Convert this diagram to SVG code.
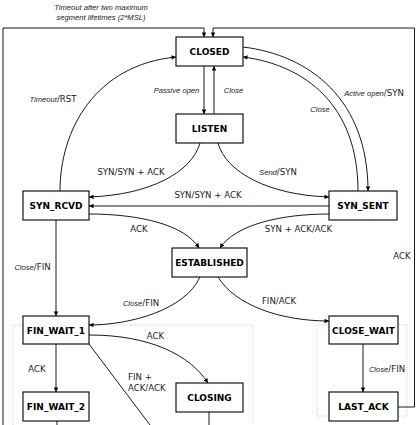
<svg xmlns="http://www.w3.org/2000/svg" width="417" height="425" viewBox="0 0 417 425">
<defs>
<marker id="ah" viewBox="0 0 10 10" refX="10" refY="5" markerWidth="5" markerHeight="4.5" markerUnits="userSpaceOnUse" orient="auto">
<path d="M0,0 L10,5 L0,10 z" fill="#000"/>
</marker>
</defs>
<style>
.box{fill:#fff;stroke:#000;stroke-width:1.1}
.nt{font-family:"DejaVu Sans",sans-serif;font-weight:bold;font-size:9px;text-anchor:middle;fill:#000}
.c{fill:none;stroke:#000;stroke-width:0.9}
.a{marker-end:url(#ah)}
.lb{font-family:"DejaVu Sans",sans-serif;font-size:8.6px;fill:#222;text-anchor:middle}
.it{font-family:"Liberation Sans",sans-serif;font-style:italic;font-size:7.6px}
.dot{fill:none;stroke:#c8c8c8;stroke-width:0.8;stroke-dasharray:1,1}
</style>
<rect width="417" height="425" fill="#fff"/>
<g id="regions">
<rect class="dot" x="13" y="325" width="240" height="105"/>
<rect class="dot" x="317" y="325" width="90" height="91"/>
</g>
<g id="connectors">
<path class="c a" d="M3,425 L3,28 L204,28 L204,37"/>
<path class="c a" d="M398,407 L414.5,407 L414.5,28 L213,28 L213,37"/>
<path class="c a" d="M204,66 L204,114"/>
<path class="c a" d="M214,114 L214,66"/>
<path class="c a" d="M60,191 C60,130 95,65 176,57"/>
<path class="c a" d="M243,47 C310,55 368,100 368,191"/>
<path class="c a" d="M358,191 C358,105 305,65 243,57"/>
<path class="c a" d="M200,143 C192,172 150,195 89,197"/>
<path class="c a" d="M218,143 C226,172 268,195 329,197"/>
<path class="c a" d="M329,206 L89,206"/>
<path class="c a" d="M89,214 C140,214 185,225 199,248"/>
<path class="c a" d="M329,214 C280,214 235,225 220,248"/>
<path class="c a" d="M56,220 L56,316"/>
<path class="c a" d="M56,344 L56,392"/>
<path class="c a" d="M200,277 C185,310 130,325 89,325"/>
<path class="c a" d="M218,277 C235,305 280,321 329,321"/>
<path class="c a" d="M363,344 L363,392"/>
<path class="c a" d="M89,335 C150,335 190,355 208,383"/>
<path class="c" d="M89,344 L150,425"/>
<path class="c" d="M209,412 L209,425"/>
<path class="c" d="M57,421 L57,425"/>
</g>
<g id="labels">
<text class="lb it" x="101" y="10">Timeout after two maximum</text>
<text class="lb it" x="101" y="20">segment lifetimes (2*MSL)</text>
<text class="lb it" x="176.5" y="93">Passive open</text>
<text class="lb it" x="233.5" y="93">Close</text>
<text class="lb" x="53" y="102"><tspan class="it">Timeout</tspan>/RST</text>
<text class="lb" x="374" y="96"><tspan class="it">Active open</tspan>/SYN</text>
<text class="lb it" x="320" y="112">Close</text>
<text class="lb" x="131" y="175">SYN/SYN + ACK</text>
<text class="lb" x="278" y="175"><tspan class="it">Send</tspan>/SYN</text>
<text class="lb" x="208" y="198">SYN/SYN + ACK</text>
<text class="lb" x="139" y="232">ACK</text>
<text class="lb" x="298.5" y="232">SYN + ACK/ACK</text>
<text class="lb" x="402" y="259">ACK</text>
<text class="lb" x="32.5" y="270"><tspan class="it">Close</tspan>/FIN</text>
<text class="lb" x="141" y="306"><tspan class="it">Close</tspan>/FIN</text>
<text class="lb" x="279" y="304">FIN/ACK</text>
<text class="lb" x="155.5" y="339">ACK</text>
<text class="lb" x="37" y="372">ACK</text>
<text class="lb" x="128" y="380" style="text-anchor:start">FIN +</text>
<text class="lb" x="128" y="391" style="text-anchor:start">ACK/ACK</text>
<text class="lb" x="387" y="372"><tspan class="it">Close</tspan>/FIN</text>
</g>
<g id="closed"><rect class="box" x="176" y="37" width="67" height="29"/><text class="nt" x="209.5" y="55">CLOSED</text></g>
<g id="listen"><rect class="box" x="176" y="114" width="67" height="29"/><text class="nt" x="209.5" y="132">LISTEN</text></g>
<g id="syn_rcvd"><rect class="box" x="23" y="191" width="66" height="29"/><text class="nt" x="56" y="209">SYN_RCVD</text></g>
<g id="syn_sent"><rect class="box" x="329" y="191" width="68" height="29"/><text class="nt" x="363" y="209">SYN_SENT</text></g>
<g id="established"><rect class="box" x="172" y="248" width="75" height="29"/><text class="nt" x="209.5" y="266">ESTABLISHED</text></g>
<g id="fin_wait_1"><rect class="box" x="23" y="316" width="66" height="28"/><text class="nt" x="56" y="333.5">FIN_WAIT_1</text></g>
<g id="fin_wait_2"><rect class="box" x="23" y="392" width="66" height="29"/><text class="nt" x="56" y="410">FIN_WAIT_2</text></g>
<g id="closing"><rect class="box" x="176" y="383" width="67" height="29"/><text class="nt" x="209.5" y="401">CLOSING</text></g>
<g id="close_wait"><rect class="box" x="329" y="316" width="69" height="28"/><text class="nt" x="363.5" y="333.5">CLOSE_WAIT</text></g>
<g id="last_ack"><rect class="box" x="329" y="392" width="69" height="29"/><text class="nt" x="363.5" y="410">LAST_ACK</text></g>
</svg>
